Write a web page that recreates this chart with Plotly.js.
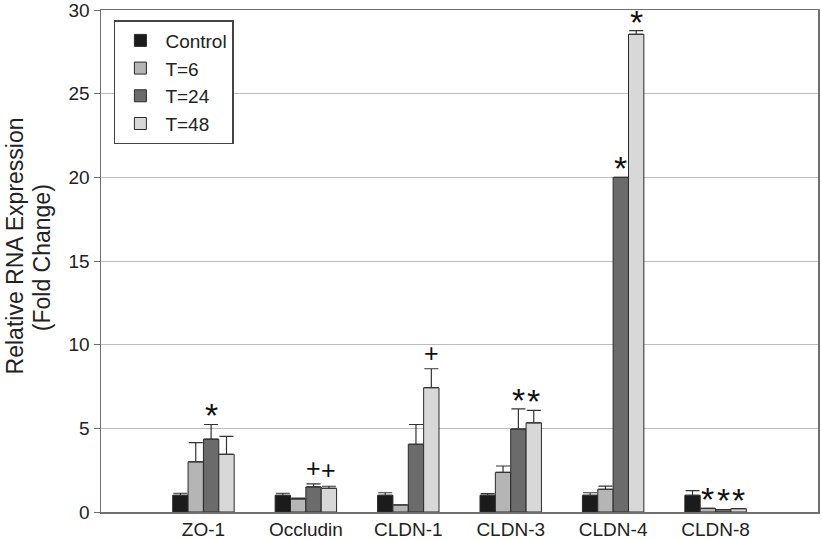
<!DOCTYPE html>
<html lang="en">
<head>
    <meta charset="UTF-8">
    <script src="https://cdn.plot.ly/plotly-3.0.1.min.js"></script>
    <style>
        html, body, #plot {
            height: 100%;
            width: 100%;
            margin: 0;
            padding: 0;
            overflow: hidden;
            background: #ffffff;
        }
    </style>
</head>
<body>
<div id="plot"></div>
<script>
    // categories and series
    const categories = ['ZO-1', 'Occludin', 'CLDN-1', 'CLDN-3', 'CLDN-4', 'CLDN-8'];
    const seriesNames = ['Control', 'T=6', 'T=24', 'T=48'];

    const control = [1.0, 1.0, 1.0, 1.0, 1.0, 1.0];
    const t6 = [3.0, 0.78, 0.42, 2.37, 1.36, 0.22];
    const t24 = [4.35, 1.5, 4.05, 4.96, 20.0, 0.15];
    const t48 = [3.45, 1.42, 7.43, 5.33, 28.55, 0.2];

    // upper error bars
    const controlErr = [0.12, 0.12, 0.15, 0.1, 0.15, 0.28];
    const t6Err = [1.15, 0.05, 0.0, 0.38, 0.19, 0.0];
    const t24Err = [0.88, 0.18, 1.18, 1.2, 0.0, 0.0];
    const t48Err = [1.07, 0.12, 1.13, 0.74, 0.22, 0.0];

    // significance marks above each bar
    const controlMarks = ['', '', '', '', '', ''];
    const t6Marks = ['', '', '', '', '', '*'];
    const t24Marks = ['*', '+', '', '*', '*', '*'];
    const t48Marks = ['', '+', '+', '*', '*', '*'];

    const colors = ['#1b1b1b', '#b5b5b5', '#6b6b6b', '#d8d8d8'];
    const values = [control, t6, t24, t48];
    const errs = [controlErr, t6Err, t24Err, t48Err];
    const marks = [controlMarks, t6Marks, t24Marks, t48Marks];

    const xPos = categories.map((c, i) => i + 1);
    const bargap = 0.4;
    const barW = (1 - bargap) / seriesNames.length;
    const fontFamily = 'Liberation Sans, Arial, sans-serif';

    const traces = seriesNames.map((name, s) => ({
        type: 'bar',
        name: name,
        x: xPos,
        y: values[s],
        marker: {
            color: colors[s],
            line: {color: '#2a2a2a', width: 1}
        },
        error_y: {
            type: 'data',
            symmetric: false,
            array: errs[s],
            arrayminus: errs[s].map(() => 0),
            color: '#333333',
            thickness: 1.2,
            width: 7
        },
        hoverinfo: 'y'
    }));

    const annotations = [];
    marks.forEach((m, s) => {
        m.forEach((txt, i) => {
            if (!txt) return;
            const isStar = txt === '*';
            annotations.push({
                x: xPos[i] - (1 - bargap) / 2 + barW * (s + 0.5),
                y: values[s][i] + errs[s][i],
                xref: 'x',
                yref: 'y',
                text: txt,
                showarrow: false,
                yanchor: 'bottom',
                yshift: isStar ? -12 : 0,
                font: {family: fontFamily, size: isStar ? 34 : 25, color: '#111111'}
            });
        });
    });

    // y axis title, two lines placed separately like the original
    annotations.push({
        text: 'Relative RNA Expression',
        textangle: -90,
        xref: 'paper', yref: 'paper',
        x: -0.12, y: 0.531,
        xanchor: 'center', yanchor: 'middle',
        showarrow: false,
        font: {family: fontFamily, size: 23, color: '#222222'}
    });
    annotations.push({
        text: '(Fold Change)',
        textangle: -90,
        xref: 'paper', yref: 'paper',
        x: -0.082, y: 0.506,
        xanchor: 'center', yanchor: 'middle',
        showarrow: false,
        font: {family: fontFamily, size: 23, color: '#222222'}
    });

    const layout = {
        width: 822,
        height: 539,
        margin: {l: 101, r: 4, t: 10, b: 27, pad: 0},
        paper_bgcolor: '#ffffff',
        plot_bgcolor: '#ffffff',
        font: {family: fontFamily, size: 19, color: '#222222'},
        barmode: 'group',
        bargap: bargap,
        bargroupgap: 0,
        xaxis: {
            range: [0, 7],
            tickvals: xPos,
            ticktext: categories,
            showgrid: false,
            zeroline: false,
            showline: true,
            linecolor: '#707070',
            linewidth: 1.5,
            mirror: true,
            ticks: '',
            tickfont: {size: 19, color: '#222222'},
            automargin: false,
            fixedrange: true
        },
        yaxis: {
            range: [0, 30],
            dtick: 5,
            showgrid: true,
            gridcolor: '#bdbdbd',
            gridwidth: 1,
            zeroline: false,
            showline: true,
            linecolor: '#707070',
            linewidth: 1.5,
            mirror: true,
            ticks: 'outside',
            ticklen: 6,
            tickcolor: '#707070',
            tickfont: {size: 19, color: '#222222'},
            ticklabeloverflow: 'allow',
            automargin: false,
            fixedrange: true
        },
        showlegend: true,
        legend: {
            x: 0.018,
            y: 0.98,
            xanchor: 'left',
            yanchor: 'top',
            bgcolor: '#ffffff',
            bordercolor: '#444444',
            borderwidth: 1.5,
            font: {size: 19, color: '#222222'},
            itemwidth: 40,
            tracegroupgap: 0
        },
        annotations: annotations
    };

    Plotly.newPlot('plot', traces, layout, {displayModeBar: false, staticPlot: true});
</script>
</body>
</html>
